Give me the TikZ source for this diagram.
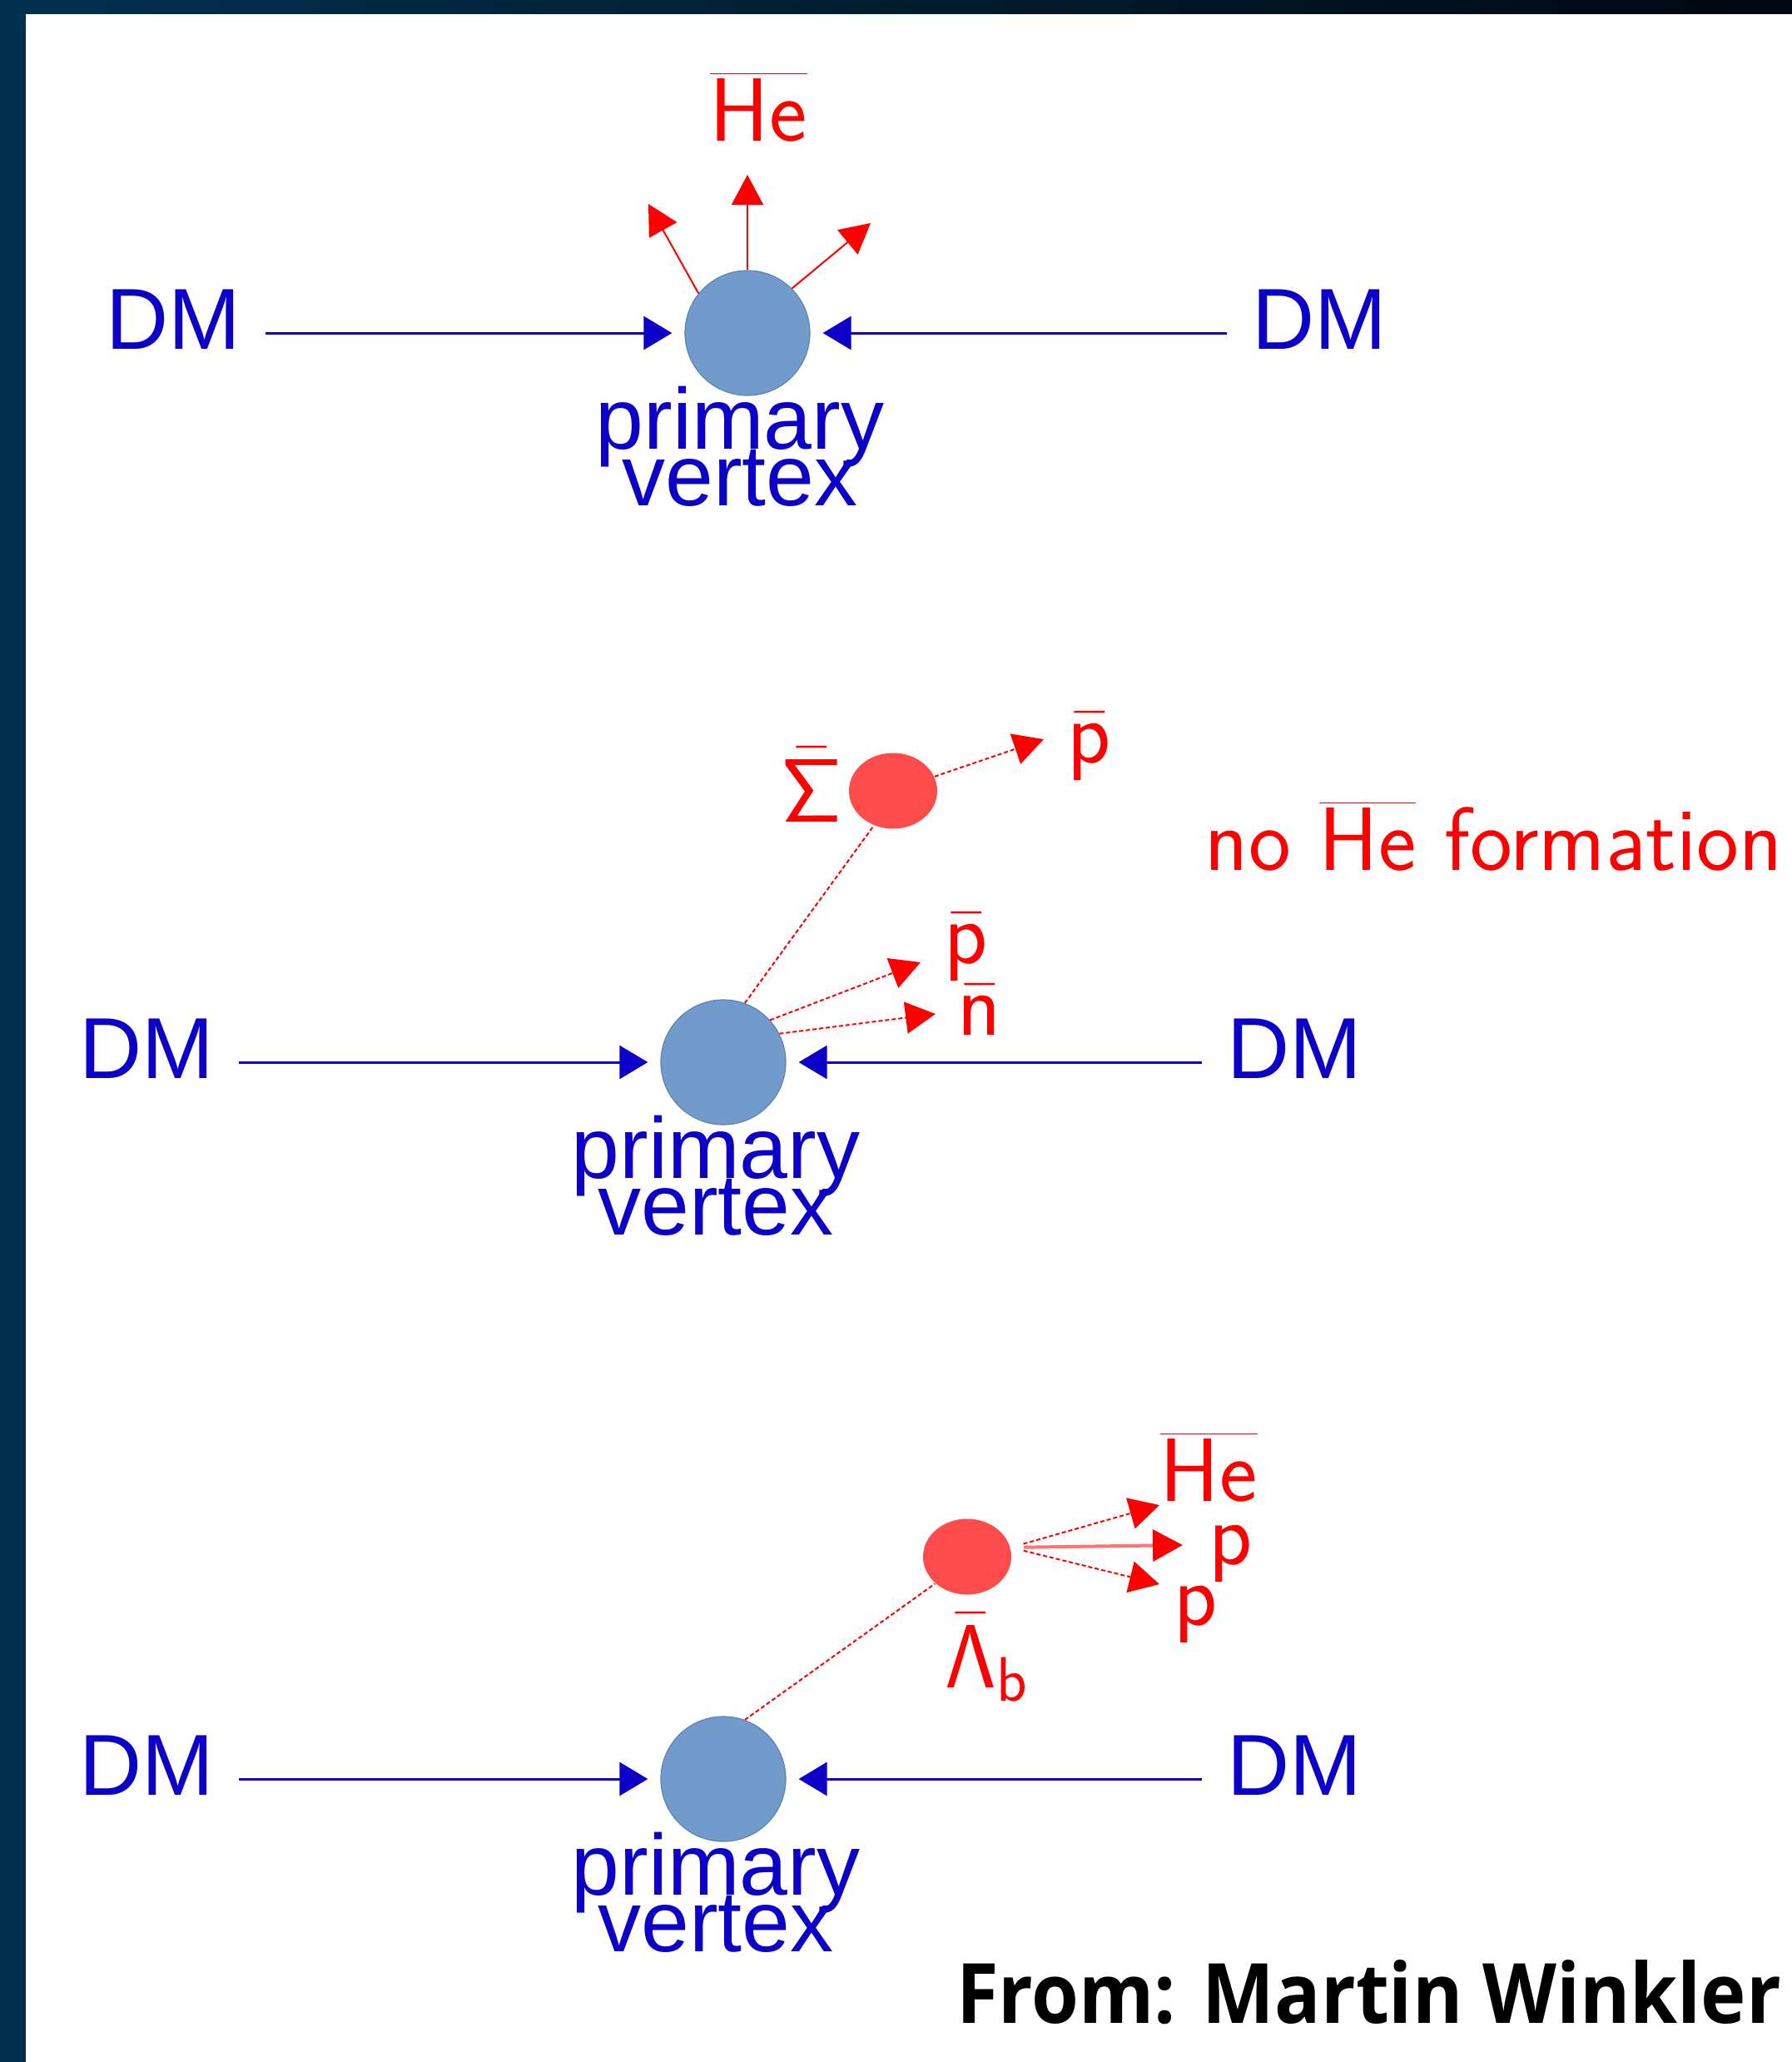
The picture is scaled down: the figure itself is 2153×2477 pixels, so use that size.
\RequirePackage{fix-cm}
\documentclass[tikz,border=0pt]{standalone}
\usepackage[no-math]{fontspec}
\usetikzlibrary{arrows.meta,shapes.geometric}
\newfontfamily\arialfont{Liberation Sans}
\newfontfamily\creditfont[FakeStretch=0.92]{Open Sans}
\newcommand\pvfont{\arialfont\fontsize{26pt}{17pt}\selectfont\lineskiplimit=-50pt\relax}
\definecolor{dmblue}{RGB}{12,0,200}
\definecolor{vtxblue}{RGB}{112,155,203}
\definecolor{hadred}{RGB}{255,75,75}
\definecolor{lblred}{RGB}{255,0,0}
\definecolor{frameleft}{RGB}{0,50,78}
\definecolor{frameright}{RGB}{0,8,16}

\begin{document}
\begin{tikzpicture}[x=0.25pt,y=-0.25pt,
  dm/.style={text=dmblue,font=\arialfont\fontsize{26pt}{26pt}\selectfont,inner sep=0pt,outer sep=7.5pt},
  vtx/.style={circle,fill=vtxblue,draw=vtxblue!85!black,line width=0.3pt,minimum size=37.5pt,inner sep=0pt},
  hadron/.style={ellipse,fill=hadred,minimum width=26.5pt,minimum height=22.75pt,inner sep=0pt},
  pvlabel/.style={text=dmblue,font=\pvfont,align=center,inner sep=0pt,anchor=north},
  lbl/.style={text=lblred,font=\fontsize{27pt}{32pt}\selectfont\sffamily,inner sep=0pt,anchor=base west},
  beam/.style={draw=dmblue,line width=0.75pt,-{Triangle[length=8.5pt,width=10pt]},shorten >=3.75pt},
  track/.style={draw=lblred,line width=0.5pt,-{Triangle[length=9pt,width=9.5pt,color=lblred]}},
  decay/.style={dash pattern=on 1.25pt off 0.75pt}]
  \useasboundingbox (0,0) rectangle (2153,2477);
  \shade[left color=frameleft,right color=frameright] (0,0) rectangle (2153,2477);
  \fill[white] (31,17) rectangle (2153,2477);

  \node[vtx] (v1) at (898,400) {};
  \node[dm,anchor=base east] (dm1l) at (319,419) {DM};
  \node[dm,anchor=base west] (dm1r) at (1474,419) {DM};
  \node[pvlabel] (pv1) at (889,463) {primary\\vertex};
  \draw[beam] (dm1l.east |- v1) -- (v1);
  \draw[beam] (dm1r.west |- v1) -- (v1);
  \node[lbl] (he1) at (852,169) {$\overline{\mathsf{He}}$};
  \coordinate (t1a) at (779,245);
  \coordinate (t1b) at (898,210);
  \coordinate (t1c) at (1046,268);
  \draw[track] (v1.141) -- (t1a);
  \draw[track] (v1.north) -- (t1b);
  \draw[track] (v1.45) -- (t1c);

  \node[vtx] (v2) at (869,1276) {};
  \node[dm,anchor=base east] (dm2l) at (287,1295) {DM};
  \node[dm,anchor=base west] (dm2r) at (1444,1295) {DM};
  \node[pvlabel] (pv2) at (860,1339) {primary\\vertex};
  \draw[beam] (dm2l.east |- v2) -- (v2);
  \draw[beam] (dm2r.west |- v2) -- (v2);
  \node[hadron] (sig) at (1073,950) {};
  \node[lbl] (sigl) at (938,987) {$\bar{\mathsf{\Sigma}}$};
  \node[lbl] (pb1) at (1282,916) {$\bar{\mathsf{p}}$};
  \node[lbl] (pb2) at (1134,1157) {$\bar{\mathsf{p}}$};
  \node[lbl] (nb) at (1150,1243) {$\bar{\mathsf{n}}$};
  \node[lbl] (nohe) at (1447,1045) {no $\overline{\mathsf{He}}$ formation};
  \coordinate (t2a) at (1254,888);
  \coordinate (t2b) at (1106,1156);
  \coordinate (t2c) at (1124,1218);
  \draw[draw=lblred,line width=0.5pt,decay] (v2.70) -- (sig.241);
  \draw[track,decay] (sig.19) -- (t2a);
  \draw[track,decay] (v2.42) -- (t2b);
  \draw[track,decay] (v2.27) -- (t2c);

  \node[vtx] (v3) at (869,2137) {};
  \node[dm,anchor=base east] (dm3l) at (287,2156) {DM};
  \node[dm,anchor=base west] (dm3r) at (1444,2156) {DM};
  \node[pvlabel] (pv3) at (860,2200) {primary\\vertex};
  \draw[beam] (dm3l.east |- v3) -- (v3);
  \draw[beam] (dm3r.west |- v3) -- (v3);
  \node[hadron] (lam) at (1162,1870) {};
  \node[lbl] (laml) at (1135,2027) {$\bar{\mathsf{\Lambda}}_{\mathsf{b}}$};
  \node[lbl] (he3) at (1393,1803) {$\overline{\mathsf{He}}$};
  \node[lbl] (p3a) at (1452,1879) {p};
  \node[lbl] (p3b) at (1410,1952) {p};
  \coordinate (t3a) at (1393,1808);
  \coordinate (t3b) at (1421,1856);
  \coordinate (t3c) at (1393,1903);
  \draw[draw=lblred,line width=0.5pt,decay] (v3.70) -- (lam.220);
  \draw[track,decay,shorten <=4pt] (lam.12) -- (t3a);
  \draw[track,draw=lblred!55,line width=1pt,shorten <=4pt] (lam.12) -- (t3b);
  \draw[track,decay,shorten <=4pt] (lam.12) -- (t3c);

  \node[anchor=base east,inner sep=0pt,font=\creditfont\bfseries\fontsize{25pt}{30pt}\selectfont] (credit) at (2141,2430) {From: Martin Winkler};
\end{tikzpicture}
\end{document}
